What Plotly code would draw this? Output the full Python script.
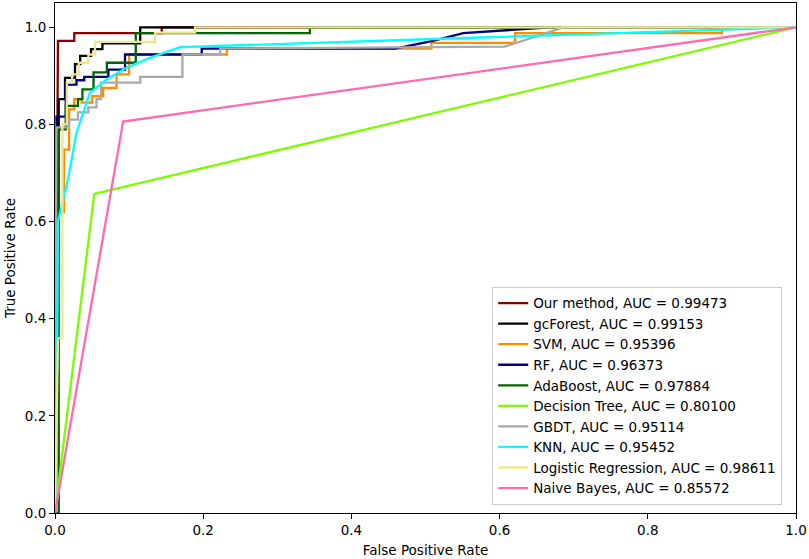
import plotly.graph_objects as go

# ROC curves (fpr, tpr)
names = ['Our method, AUC = 0.99473', 'gcForest, AUC = 0.99153', 'SVM, AUC = 0.95396',
         'RF, AUC = 0.96373', 'AdaBoost, AUC = 0.97884', 'Decision Tree, AUC = 0.80100',
         'GBDT, AUC = 0.95114', 'KNN, AUC = 0.95452', 'Logistic Regression, AUC = 0.98611',
         'Naive Bayes, AUC = 0.85572']
colors = ['#8B0000', 'black', '#FF8C00', '#000080', '#006400', '#7CFC00',
          '#A9A9A9', '#00FFFF', '#F0E68C', '#FF69B4']

ours_fpr = [0, 0.004, 0.004, 0.026, 0.026, 0.144, 0.144, 1.0]
ours_tpr = [0, 0.85, 0.972, 0.972, 0.988, 0.988, 1.0, 1.0]

gcf_fpr = [0, 0.0015, 0.0015, 0.005, 0.005, 0.0135, 0.0135, 0.027, 0.027, 0.034, 0.034,
           0.0486, 0.0486, 0.064, 0.064, 0.115, 0.115, 1.0]
gcf_tpr = [0, 0.34, 0.54, 0.54, 0.852, 0.852, 0.896, 0.896, 0.924, 0.924, 0.941,
           0.941, 0.955, 0.955, 0.967, 0.967, 1.0, 1.0]

svm_fpr = [0, 0.003, 0.003, 0.012, 0.012, 0.019, 0.019, 0.026, 0.026, 0.036, 0.036, 0.05, 0.05,
           0.065, 0.065, 0.083, 0.083, 0.1, 0.1, 0.232, 0.232, 0.508, 0.508, 0.621, 0.621,
           0.9, 0.9, 1.0]
svm_tpr = [0, 0.35, 0.62, 0.62, 0.748, 0.748, 0.831, 0.831, 0.852, 0.852, 0.845, 0.845, 0.858,
           0.858, 0.875, 0.875, 0.903, 0.903, 0.944, 0.944, 0.956, 0.956, 0.968, 0.968, 0.988,
           0.988, 1.0, 1.0]

rf_fpr = [0, 0.002, 0.002, 0.0145, 0.0145, 0.029, 0.029, 0.0395, 0.0395, 0.072, 0.072,
          0.0945, 0.0945, 0.198, 0.198, 0.459, 0.51, 0.551, 0.668, 1.0]
rf_tpr = [0, 0.33, 0.816, 0.816, 0.882, 0.882, 0.891, 0.891, 0.898, 0.898, 0.913,
          0.913, 0.944, 0.944, 0.956, 0.956, 0.972, 0.988, 1.0, 1.0]

ada_fpr = [0, 0.005, 0.005, 0.0145, 0.0145, 0.031, 0.031, 0.037, 0.037, 0.052, 0.052,
           0.07, 0.07, 0.109, 0.109, 0.344, 0.344, 1.0]
ada_tpr = [0, 0, 0.79, 0.79, 0.838, 0.838, 0.852, 0.852, 0.872, 0.872, 0.907,
           0.907, 0.927, 0.927, 0.988, 0.988, 1.0, 1.0]

dt_fpr = [0, 0.053, 1.0]
dt_tpr = [0, 0.657, 1.0]

gbdt_fpr = [0, 0.002, 0.002, 0.018, 0.018, 0.031, 0.031, 0.045, 0.045, 0.056, 0.056,
            0.062, 0.062, 0.115, 0.115, 0.172, 0.172, 0.223, 0.223, 0.607, 0.686, 1.0]
gbdt_tpr = [0, 0.54, 0.794, 0.794, 0.81, 0.81, 0.825, 0.825, 0.835, 0.835, 0.852,
            0.852, 0.886, 0.886, 0.898, 0.898, 0.944, 0.944, 0.956, 0.96, 1.0, 1.0]

knn_fpr = [0, 0.003, 0.004, 0.01, 0.018, 0.029, 0.047, 0.07, 0.097, 0.128, 0.169,
           0.574, 1.0]
knn_tpr = [0, 0.33, 0.6, 0.64, 0.69, 0.783, 0.865, 0.893, 0.917, 0.937, 0.959,
           0.979, 1.0]

lr_fpr = [0, 0.004, 0.004, 0.010, 0.010, 0.016, 0.016, 0.023, 0.023, 0.032, 0.032,
          0.045, 0.045, 0.054, 0.054, 0.135, 0.135, 0.189, 0.189, 1.0]
lr_tpr = [0, 0.33, 0.36, 0.36, 0.80, 0.80, 0.886, 0.886, 0.903, 0.903, 0.927,
          0.927, 0.944, 0.944, 0.970, 0.970, 0.989, 0.989, 1.0, 1.0]

nb_fpr = [0, 0.092, 1.0]
nb_tpr = [0, 0.806, 1.0]

curves = [(ours_fpr, ours_tpr), (gcf_fpr, gcf_tpr), (svm_fpr, svm_tpr), (rf_fpr, rf_tpr),
          (ada_fpr, ada_tpr), (dt_fpr, dt_tpr), (gbdt_fpr, gbdt_tpr), (knn_fpr, knn_tpr),
          (lr_fpr, lr_tpr), (nb_fpr, nb_tpr)]

fig = go.Figure()
for (fpr, tpr), name, c in zip(curves, names, colors):
    fig.add_trace(go.Scatter(x=fpr, y=tpr, mode='lines', name=name,
                             line={'color': c, 'width': 2.3}))

font = {'family': 'DejaVu Sans', 'size': 13.5, 'color': 'black'}

axis = {'showgrid': False, 'zeroline': False, 'showline': True, 'mirror': True,
        'linecolor': 'black', 'linewidth': 1, 'ticks': 'outside', 'ticklen': 5,
        'tickcolor': 'black', 'tickfont': font, 'automargin': False,
        'tickformat': '.1f', 'dtick': 0.2, 'tick0': 0}

fig.update_layout(
    width=809, height=559,
    margin={'l': 55, 'r': 13, 't': 3, 'b': 46},
    plot_bgcolor='white', paper_bgcolor='white',
    font=font,
    xaxis=dict(axis, range=[0, 1.0], title={'text': 'False Positive Rate', 'font': font, 'standoff': 8}),
    yaxis=dict(axis, range=[0, 1.05], title={'text': 'True Positive Rate', 'font': font, 'standoff': 6}),
    legend={'x': 0.59, 'y': 0.016, 'xanchor': 'left', 'yanchor': 'bottom',
            'bgcolor': 'rgba(255,255,255,0.8)', 'bordercolor': '#cccccc', 'borderwidth': 1,
            'font': font, 'tracegroupgap': 0},
    showlegend=True,
)

# drop the page's default body margin so the figure sits at the window corner
fig.write_html("out.html", config={'displayModeBar': False},
               post_script="document.body.style.margin='0';")
